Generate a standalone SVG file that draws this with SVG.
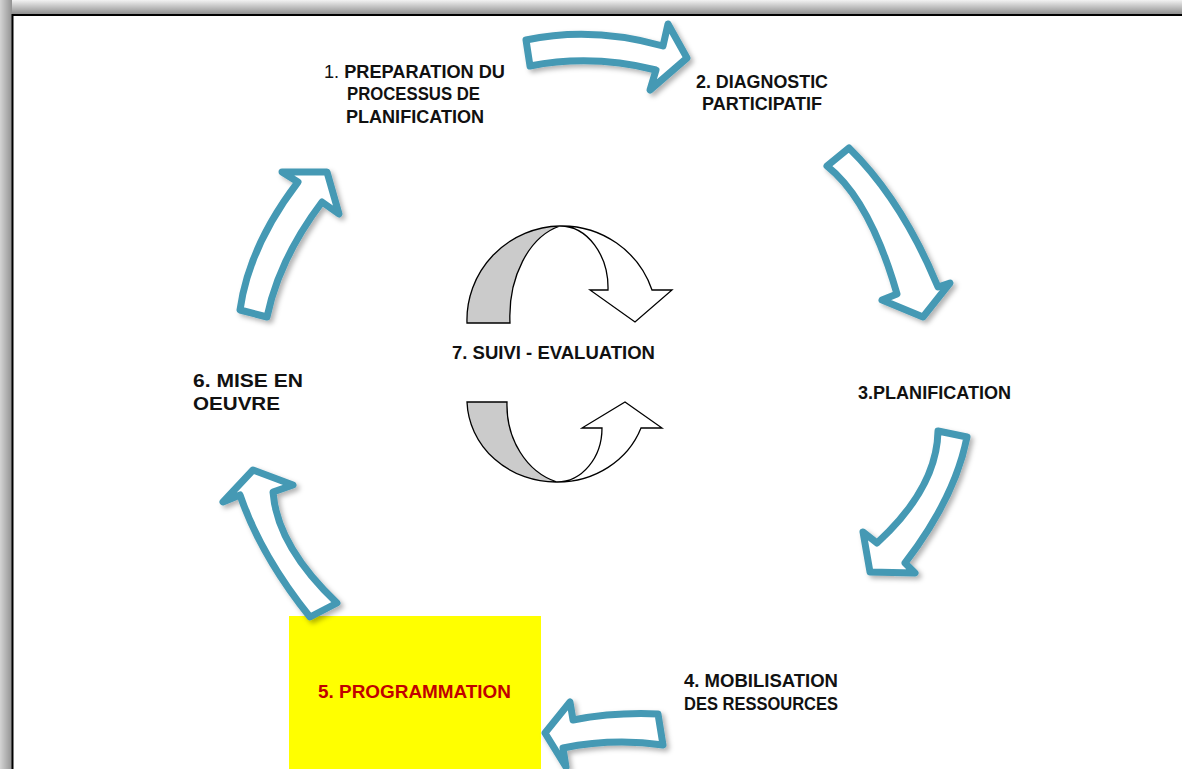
<svg xmlns="http://www.w3.org/2000/svg" width="1182" height="769" viewBox="0 0 1182 769">
  <defs>
    <linearGradient id="gTop" x1="0" y1="0" x2="0" y2="1">
      <stop offset="0" stop-color="#f2f2f2"/>
      <stop offset="1" stop-color="#8f8f8f"/>
    </linearGradient>
    <linearGradient id="gLeft" x1="0" y1="0" x2="1" y2="0">
      <stop offset="0" stop-color="#d4d4d4"/>
      <stop offset="1" stop-color="#929292"/>
    </linearGradient>
    <filter id="shadow" x="-20%" y="-20%" width="150%" height="150%">
      <feDropShadow dx="3" dy="3" stdDeviation="2.5" flood-color="#000" flood-opacity="0.3"/>
    </filter>
    <style>
      .cycle { fill: #ffffff; stroke: #4599b4; stroke-width: 7; stroke-linejoin: round; filter: url(#shadow); }
      .loop { stroke: #000; stroke-width: 1.3; stroke-linejoin: miter; }
      .loop-back { fill: #cbcbcb; }
      .loop-front { fill: #ffffff; }
      .lbl { font-family: "Liberation Sans", Arial, sans-serif; font-size: 18px; font-weight: bold; fill: #111; }
      .num { font-weight: normal; }
      .red { fill: #c00000; }
    </style>
  </defs>

  <!-- page frame with shaded edges -->
  <rect x="0" y="0" width="1182" height="14" fill="url(#gTop)"/>
  <rect x="0" y="0" width="12" height="769" fill="url(#gLeft)"/>
  <rect x="12.5" y="15" width="1180" height="760" fill="#ffffff" stroke="#000" stroke-width="2"/>

  <!-- highlighted step box -->
  <g id="node-5-box">
    <rect x="289" y="616" width="252" height="153" fill="#ffff00"/>
  </g>

  <!-- cycle connectors -->
  <g id="connectors">
    <path id="arrow-1-2" class="cycle" d="M526,40 Q592,26 663,46 L668,24 L687,58 L650,90 L656,70 Q592,54 530,66 Z"/>
    <path id="arrow-2-3" class="cycle" d="M827,166 L849,148 Q902,200 938,287 L950,283 L923,317 L882,300 L897,294 Q870,200 827,166 Z"/>
    <path id="arrow-3-4" class="cycle" d="M938,431 L967,437 Q955,498 905,563 L915,573 L870,572 L863,532 L877,543 Q937,488 938,431 Z"/>
    <path id="arrow-4-5" class="cycle" d="M658,714 L663,745 Q613,738 563,748 L566,767 L545,733 L570,702 L573,720 Q615,712 658,714 Z"/>
    <path id="arrow-5-6" class="cycle" d="M310,617 L337,603 Q277,546 273,492 L293,485 L253,470 L223,502 L240,495 Q261,556 310,617 Z"/>
    <path id="arrow-6-1" class="cycle" d="M240,310 L267,317 Q279,259 322,202 L339,214 L327,172 L282,172 L298,182 Q249,246 240,310 Z"/>
  </g>

  <!-- central monitoring loop -->
  <g id="node-7-loop">
    <path class="loop loop-back" d="M467,323 A95,94 0 0 1 560,226 A65,93 0 0 0 510,323 Z"/>
    <path class="loop loop-front" d="M560,226 A95,94 0 0 1 652,290 L672,290 L635,322 L590,290 L608,290 A48,62 0 0 0 560,226 Z"/>
    <path class="loop loop-back" d="M467,402 L507,402 A68,80 0 0 0 557,482 A89,83 0 0 1 467,402 Z"/>
    <path class="loop loop-front" d="M557,482 A89,83 0 0 0 641,428 L662,428 L625,402 L582,428 L602,428 A45,54 0 0 1 557,482 Z"/>
    <text class="lbl" x="452" y="359" textLength="203" lengthAdjust="spacingAndGlyphs">7. SUIVI - EVALUATION</text>
  </g>

  <g id="node-1">
    <text class="lbl" x="324" y="78" textLength="181" lengthAdjust="spacingAndGlyphs"><tspan class="num">1. </tspan>PREPARATION DU</text>
    <text class="lbl" x="347" y="100" textLength="133" lengthAdjust="spacingAndGlyphs">PROCESSUS DE</text>
    <text class="lbl" x="346" y="123" textLength="138" lengthAdjust="spacingAndGlyphs">PLANIFICATION</text>
  </g>

  <g id="node-2">
    <text class="lbl" x="696" y="88" textLength="132" lengthAdjust="spacingAndGlyphs">2. DIAGNOSTIC</text>
    <text class="lbl" x="702" y="110" textLength="120" lengthAdjust="spacingAndGlyphs">PARTICIPATIF</text>
  </g>

  <g id="node-3">
    <text class="lbl" x="858" y="399" textLength="153" lengthAdjust="spacingAndGlyphs">3.PLANIFICATION</text>
  </g>

  <g id="node-4">
    <text class="lbl" x="684" y="687" textLength="154" lengthAdjust="spacingAndGlyphs">4. MOBILISATION</text>
    <text class="lbl" x="684" y="710" textLength="154" lengthAdjust="spacingAndGlyphs">DES RESSOURCES</text>
  </g>

  <g id="node-5">
    <text class="lbl red" x="318" y="698" textLength="193" lengthAdjust="spacingAndGlyphs">5. PROGRAMMATION</text>
  </g>

  <g id="node-6">
    <text class="lbl" x="193" y="387" textLength="110" lengthAdjust="spacingAndGlyphs">6. MISE EN</text>
    <text class="lbl" x="193" y="410" textLength="87" lengthAdjust="spacingAndGlyphs">OEUVRE</text>
  </g>
</svg>
